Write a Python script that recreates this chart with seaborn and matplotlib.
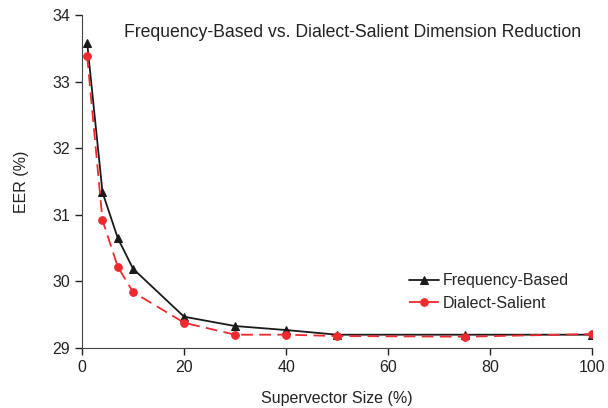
import pandas as pd
import numpy as np
import seaborn as sns
import matplotlib.pyplot as plt

sizes = [1, 4, 7, 10, 20, 30, 40, 50, 75, 100]
freq_based = [33.58, 31.34, 30.65, 30.19, 29.47, 29.33, 29.27, 29.20, 29.20, 29.20]
dialect_salient = [33.38, 30.92, 30.22, 29.84, 29.38, 29.20, 29.20, 29.18, 29.17, 29.21]

sns.set_style("ticks")
plt.rcParams['font.family'] = ['Liberation Sans', 'DejaVu Sans']

fig = plt.figure(figsize=(6.08, 4.08), dpi=100)
ax = fig.add_axes([0.135, 0.147, 0.839, 0.816])

sns.lineplot(x=sizes, y=freq_based, ax=ax, color="#1a1a1a", linewidth=1.3,
             marker="^", markersize=6, markeredgecolor="#1a1a1a", label="Frequency-Based")
sns.lineplot(x=sizes, y=dialect_salient, ax=ax, color="#ee2a2e", linewidth=1.3,
             linestyle=(0, (6.5, 3.5)), marker="o", markersize=5.5, markeredgecolor="#ee2a2e",
             label="Dialect-Salient")

ax.set_xlim(0, 100)
ax.set_ylim(29, 34)
ax.set_xticks(range(0, 101, 20))
ax.set_yticks(range(29, 35))
ax.set_xlabel("Supervector Size (%)", fontsize=11.5, color="#222222", labelpad=12)
ax.set_ylabel("EER (%)", fontsize=11.5, color="#222222", labelpad=17)
ax.tick_params(labelsize=11.5, colors="#222222", length=5, width=1)
for s in ["left", "bottom"]:
    ax.spines[s].set_color("#444444")
sns.despine(ax=ax)

ax.text(0.531, 0.949, "Frequency-Based vs. Dialect-Salient Dimension Reduction",
        transform=ax.transAxes, ha="center", va="center", fontsize=12.7, color="#222222")
ax.legend(loc="center right", bbox_to_anchor=(0.982, 0.168), frameon=False, fontsize=11.5,
          handlelength=1.9, handletextpad=0.2, labelspacing=0.45)

plt.savefig("out.png", dpi=100)
